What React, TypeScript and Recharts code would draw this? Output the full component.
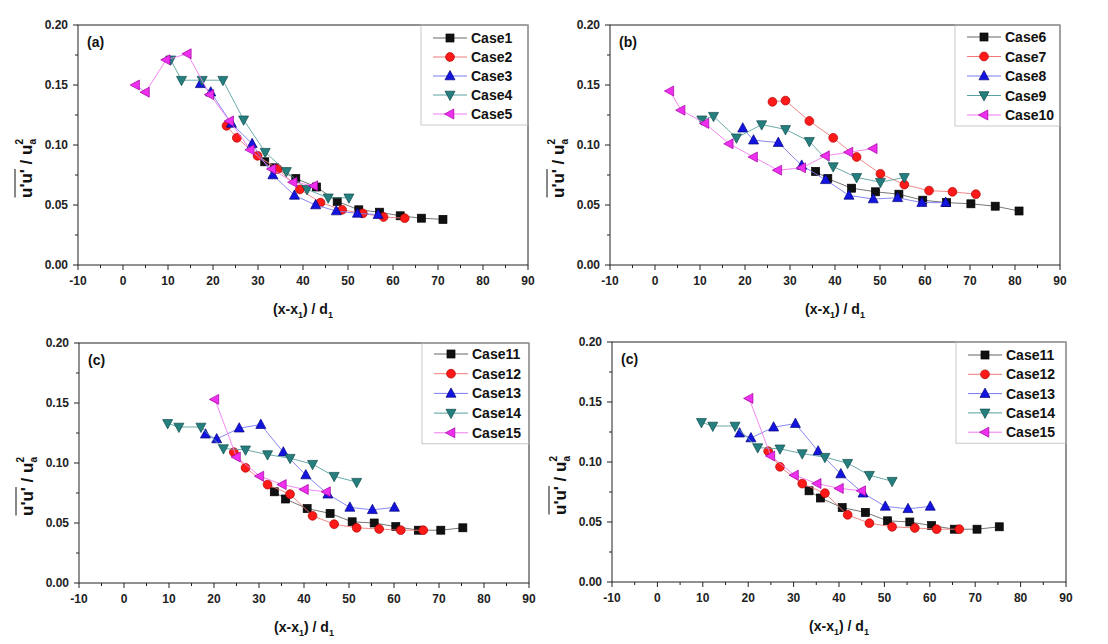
import { ScatterChart, Scatter, XAxis, YAxis } from "recharts";

// (x - x1) / d1 , u'u' / ua^2
const CASE1 = [[31.5, 0.086], [33.7, 0.081], [38.4, 0.072], [43.0, 0.065], [47.6, 0.053], [52.4, 0.046], [57.0, 0.044], [61.6, 0.041], [66.3, 0.039], [71.1, 0.038]];
const CASE2 = [[23.0, 0.116], [25.3, 0.106], [29.9, 0.091], [34.4, 0.08], [39.3, 0.063], [43.9, 0.052], [48.7, 0.046], [53.3, 0.043], [57.9, 0.04], [62.6, 0.039]];
const CASE3 = [[17.2, 0.151], [19.5, 0.144], [24.1, 0.118], [28.7, 0.101], [33.3, 0.075], [38.1, 0.058], [42.8, 0.05], [47.4, 0.045], [52.1, 0.043], [56.7, 0.042]];
const CASE4 = [[10.6, 0.171], [13.0, 0.154], [17.6, 0.154], [22.2, 0.154], [26.8, 0.121], [31.6, 0.094], [36.3, 0.078], [40.9, 0.063], [45.6, 0.056], [50.2, 0.056]];
const CASE5 = [[2.8, 0.15], [5.0, 0.144], [9.6, 0.171], [14.3, 0.176], [19.3, 0.142], [23.7, 0.12], [28.3, 0.096], [33.1, 0.08], [37.8, 0.069], [42.4, 0.066]];

const CASE6 = [[35.7, 0.078], [38.4, 0.072], [43.7, 0.064], [49.0, 0.061], [54.2, 0.059], [59.5, 0.054], [64.8, 0.052], [70.2, 0.051], [75.6, 0.049], [80.9, 0.045]];
const CASE7 = [[26.1, 0.136], [29.0, 0.137], [34.3, 0.12], [39.6, 0.106], [44.8, 0.09], [50.1, 0.076], [55.4, 0.067], [60.9, 0.062], [66.1, 0.061], [71.3, 0.059]];
const CASE8 = [[19.5, 0.114], [21.9, 0.104], [27.4, 0.102], [32.6, 0.083], [37.9, 0.071], [43.1, 0.058], [48.5, 0.055], [53.9, 0.056], [59.3, 0.052], [64.6, 0.052]];
const CASE9 = [[10.4, 0.121], [13.0, 0.124], [18.1, 0.106], [23.7, 0.117], [29.0, 0.113], [34.3, 0.103], [39.6, 0.082], [44.8, 0.073], [50.1, 0.069], [55.4, 0.073]];
const CASE10 = [[3.3, 0.145], [5.8, 0.129], [11.1, 0.118], [16.5, 0.101], [21.9, 0.09], [27.3, 0.079], [32.6, 0.081], [37.9, 0.091], [43.1, 0.094], [48.5, 0.097]];

const CASE11 = [[33.4, 0.076], [35.9, 0.07], [40.7, 0.062], [45.8, 0.058], [50.7, 0.051], [55.6, 0.05], [60.4, 0.047], [65.4, 0.044], [70.4, 0.044], [75.3, 0.046]];
const CASE12 = [[24.4, 0.109], [27.0, 0.096], [31.9, 0.082], [36.9, 0.074], [41.9, 0.056], [46.7, 0.049], [51.7, 0.046], [56.7, 0.045], [61.5, 0.044], [66.5, 0.044]];
const CASE13 = [[18.1, 0.124], [20.6, 0.12], [25.6, 0.129], [30.4, 0.132], [35.4, 0.109], [40.4, 0.09], [45.3, 0.074], [50.2, 0.063], [55.2, 0.061], [60.1, 0.063]];
const CASE14 = [[9.7, 0.133], [12.2, 0.13], [17.1, 0.13], [22.1, 0.112], [27.0, 0.111], [31.9, 0.107], [36.9, 0.104], [41.9, 0.099], [46.7, 0.089], [51.7, 0.084]];
const CASE15 = [[20.2, 0.153], [25.0, 0.105], [30.2, 0.089], [35.2, 0.082], [40.1, 0.078], [45.0, 0.076]];

const X_TICKS = [-10, -5, 0, 5, 10, 15, 20, 25, 30, 35, 40, 45, 50, 55, 60, 65, 70, 75, 80, 85, 90];
const Y_TICKS = [0, 0.025, 0.05, 0.075, 0.1, 0.125, 0.15, 0.175, 0.2];

const FONT = "Arial, 'Liberation Sans', sans-serif";
const AXIS = "#222";

type Kind = "square" | "circle" | "up" | "down" | "left";

const STYLES: { kind: Kind; fill: string; edge: string; line: string }[] = [
  { kind: "square", fill: "#111", edge: "#000", line: "#666" },
  { kind: "circle", fill: "#ff1a1a", edge: "#b00000", line: "#f07a7a" },
  { kind: "up", fill: "#1414e0", edge: "#00007a", line: "#7a7af0" },
  { kind: "down", fill: "#267f7f", edge: "#0e4a4a", line: "#5aa0a0" },
  { kind: "left", fill: "#ee30ee", edge: "#a000a0", line: "#f07af0" },
];

function drawMarker(kind: Kind, cx: number, cy: number, fill: string, edge: string) {
  const sw = 0.7;
  if (kind === "square") return <rect x={cx - 4} y={cy - 4} width={8} height={8} fill={fill} stroke={edge} strokeWidth={sw} />;
  if (kind === "circle") return <circle cx={cx} cy={cy} r={4.4} fill={fill} stroke={edge} strokeWidth={sw} />;
  let pts = "";
  if (kind === "up") pts = `${cx},${cy - 5.5} ${cx + 5},${cy + 3.8} ${cx - 5},${cy + 3.8}`;
  if (kind === "down") pts = `${cx - 5},${cy - 3.8} ${cx + 5},${cy - 3.8} ${cx},${cy + 5.5}`;
  if (kind === "left") pts = `${cx - 5.5},${cy} ${cx + 3.8},${cy - 5} ${cx + 3.8},${cy + 5}`;
  return <polygon points={pts} fill={fill} stroke={edge} strokeWidth={sw} />;
}

const toPoints = (rows: number[][]) => rows.map(([x, y]) => ({ x, y }));

function XTick({ x, y, payload }: any) {
  const v = payload.value as number;
  const major = v % 10 === 0;
  return (
    <g>
      <line x1={x} x2={x} y1={y} y2={y + (major ? 5 : 3)} stroke={AXIS} strokeWidth={1} />
      {major && (
        <text x={x} y={y + 20} textAnchor="middle" fontSize={12} fontWeight="bold" fontFamily={FONT} fill="#222">
          {v}
        </text>
      )}
    </g>
  );
}

function YTick({ x, y, payload }: any) {
  const v = payload.value as number;
  const major = Math.round(v * 1000) % 50 === 0;
  return (
    <g>
      <line x1={x} x2={x - (major ? 5 : 3)} y1={y} y2={y} stroke={AXIS} strokeWidth={1} />
      {major && (
        <text x={x - 10} y={y + 4} textAnchor="end" fontSize={12} fontWeight="bold" fontFamily={FONT} fill="#222">
          {v.toFixed(2)}
        </text>
      )}
    </g>
  );
}

type PanelDef = {
  L: number; R: number; T: number; B: number;
  label: string;
  names: string[];
  series: number[][][];
  legX: number; legY: number; legStep: number;
};

const PANELS: PanelDef[] = [
  { L: 78, R: 528, T: 25, B: 265, label: "(a)", names: ["Case1", "Case2", "Case3", "Case4", "Case5"], series: [CASE1, CASE2, CASE3, CASE4, CASE5], legX: 433, legY: 38, legStep: 19 },
  { L: 610, R: 1060, T: 25, B: 265, label: "(b)", names: ["Case6", "Case7", "Case8", "Case9", "Case10"], series: [CASE6, CASE7, CASE8, CASE9, CASE10], legX: 967, legY: 37, legStep: 19.5 },
  { L: 79, R: 529, T: 343, B: 583, label: "(c)", names: ["Case11", "Case12", "Case13", "Case14", "Case15"], series: [CASE11, CASE12, CASE13, CASE14, CASE15], legX: 434, legY: 354, legStep: 19.7 },
  { L: 612, R: 1066, T: 342, B: 582, label: "(c)", names: ["Case11", "Case12", "Case13", "Case14", "Case15"], series: [CASE11, CASE12, CASE13, CASE14, CASE15], legX: 968, legY: 355, legStep: 19.3 },
];

function Panel({ p }: { p: PanelDef }) {
  const W = p.R - p.L + 120;
  const H = p.B - p.T + 70;
  return (
    <div style={{ position: "absolute", left: p.L - 70, top: p.T - 20 }}>
      <ScatterChart width={W} height={H} margin={{ left: 10, right: 50, top: 20, bottom: 10 }}>
        <XAxis
          type="number"
          dataKey="x"
          domain={[-10, 90]}
          ticks={X_TICKS}
          interval={0}
          height={40}
          tickSize={0}
          tickMargin={0}
          tickLine={false}
          axisLine={false}
          tick={(props: any) => <XTick {...props} />}
        />
        <YAxis
          type="number"
          dataKey="y"
          domain={[0, 0.2]}
          ticks={Y_TICKS}
          interval={0}
          width={60}
          tickSize={0}
          tickMargin={0}
          tickLine={false}
          axisLine={false}
          tick={(props: any) => <YTick {...props} />}
        />
        {p.series.map((rows, i) => {
          const s = STYLES[i];
          return (
            <Scatter
              key={p.names[i]}
              name={p.names[i]}
              data={toPoints(rows)}
              line={{ stroke: s.line, strokeWidth: 0.9 }}
              shape={(props: any) => drawMarker(s.kind, props.cx, props.cy, s.fill, s.edge)}
              isAnimationActive={false}
            />
          );
        })}
      </ScatterChart>
    </div>
  );
}

function Decorations({ p }: { p: PanelDef }) {
  const cx = (p.L + p.R) / 2;
  const last = p.legY + p.legStep * 4;
  const yt = { x: p.L - 46, y: p.T + 173 };
  return (
    <g>
      <rect x={p.L} y={p.T} width={p.R - p.L} height={p.B - p.T} fill="none" stroke={AXIS} strokeWidth={1} />
      <rect x={p.legX - 12} y={p.T} width={p.R - p.legX + 12} height={last + 11 - p.T} fill="none" stroke="#bbb" strokeWidth={0.8} />
      <text x={p.L + 9} y={p.T + 22} fontSize={14} fontWeight="bold" fontFamily={FONT} fill="#111">
        {p.label}
      </text>
      {p.names.map((n, i) => {
        const s = STYLES[i];
        const y = p.legY + p.legStep * i;
        return (
          <g key={n}>
            <line x1={p.legX} x2={p.legX + 34} y1={y} y2={y} stroke={s.line} strokeWidth={1} />
            {drawMarker(s.kind, p.legX + 17, y, s.fill, s.edge)}
            <text x={p.legX + 38} y={y + 5} fontSize={14} fontWeight="bold" fontFamily={FONT} fill="#111">
              {n}
            </text>
          </g>
        );
      })}
      <text x={cx} y={p.B + 49} textAnchor="middle" fontSize={14} fontWeight="bold" fontFamily={FONT} fill="#111">
        (x-x<tspan fontSize={9} dy={4}>1</tspan>
        <tspan dy={-4}>) / d</tspan>
        <tspan fontSize={9} dy={4}>1</tspan>
      </text>
      <g transform={`translate(${yt.x},${yt.y}) rotate(-90)`}>
        <line x1={0.5} x2={29} y1={-17} y2={-17} stroke="#111" strokeWidth={1} />
        <text x={0} y={0} fontSize={17} fontWeight="bold" fontFamily={FONT} fill="#111">
          u'u'  /  u<tspan fontSize={10} dy={4}>a</tspan>
          <tspan fontSize={10} dx={-5.5} dy={-13}>2</tspan>
        </text>
      </g>
    </g>
  );
}

export default function App() {
  return (
    <div style={{ position: "absolute", left: 0, top: 0, width: 1108, height: 644, background: "#fff", overflow: "hidden" }}>
      {PANELS.map((p, i) => (
        <Panel key={i} p={p} />
      ))}
      <svg width={1108} height={644} style={{ position: "absolute", left: 0, top: 0, pointerEvents: "none" }}>
        {PANELS.map((p, i) => (
          <Decorations key={i} p={p} />
        ))}
      </svg>
    </div>
  );
}
